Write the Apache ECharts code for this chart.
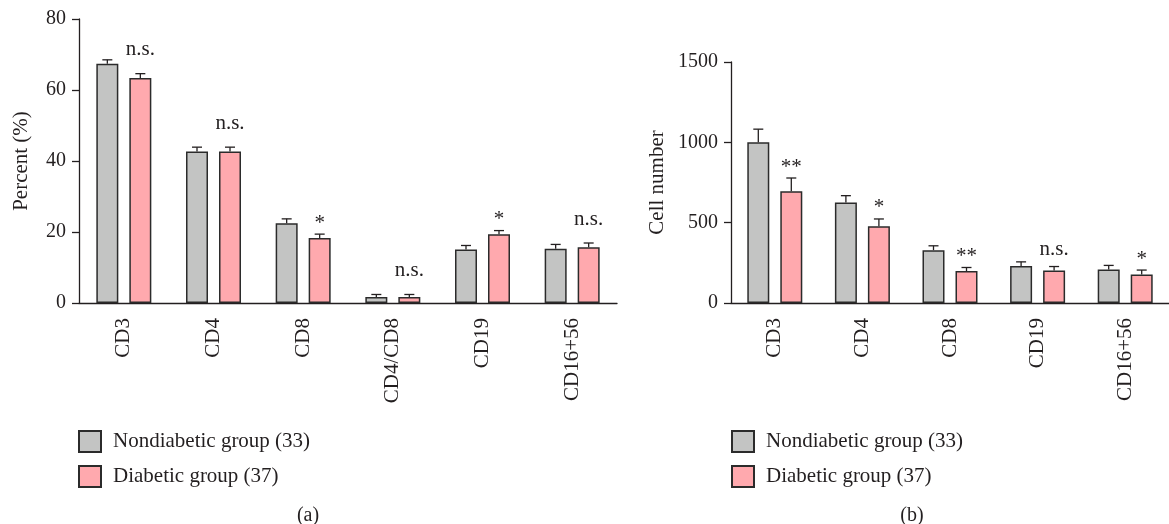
<!DOCTYPE html>
<html>
<head>
<meta charset="utf-8">
<script src="https://cdn.jsdelivr.net/npm/echarts@6/dist/echarts.min.js"></script>
<style>
html,body{margin:0;padding:0;background:#fff;}
#chart{width:1169px;height:524px;}
</style>
</head>
<body>
<div id="chart"></div>
<script>
// ---------- data ----------
const categoriesA = ['CD3', 'CD4', 'CD8', 'CD4/CD8', 'CD19', 'CD16+56'];
const nondiabeticPct = [67.4, 42.7, 22.5, 1.7, 15.1, 15.3];
const nondiabeticPctSem = [1.1, 1.2, 1.2, 0.7, 1.1, 1.2];
const diabeticPct = [63.4, 42.7, 18.3, 1.7, 19.4, 15.7];
const diabeticPctSem = [1.2, 1.2, 1.1, 0.7, 1.0, 1.2];
const signifA = ['n.s.', 'n.s.', '*', 'n.s.', '*', 'n.s.'];

const categoriesB = ['CD3', 'CD4', 'CD8', 'CD19', 'CD16+56'];
const nondiabeticCount = [1000, 625, 329, 230, 209];
const nondiabeticCountSem = [82, 43, 27, 26, 25];
const diabeticCount = [695, 478, 199, 203, 178];
const diabeticCountSem = [83, 45, 22, 24, 27];
const signifB = ['**', '*', '**', 'n.s.', '*'];

const yTicksA = [0, 20, 40, 60, 80];
const yTicksB = [0, 500, 1000, 1500];

const seriesNames = ['Nondiabetic group (33)', 'Diabetic group (37)'];
const panelLabels = ['(a)', '(b)'];

// ---------- style ----------
const FONT = 'Liberation Serif';
const INK = '#231f20';
const GRAY = '#c3c4c3';
const PINK = '#ffa9ae';
const BAR_W = 22;
const BAR_GAP_PX = 11;
const OFF = (BAR_W + BAR_GAP_PX) / 2;

function errorRenderer(sign, texts, nsGap, starGap) {
  return function (params, api) {
    const i = api.value(0);
    const mean = api.value(1);
    const sem = api.value(2);
    const base = api.coord([i, mean]);
    const top = api.coord([i, mean + sem]);
    const x = base[0] + sign * OFF;
    const children = [
      { type: 'line', shape: { x1: x, y1: base[1], x2: x, y2: top[1] },
        style: { stroke: INK, lineWidth: 1.3 } },
      { type: 'line', shape: { x1: x - 5, y1: top[1], x2: x + 5, y2: top[1] },
        style: { stroke: INK, lineWidth: 1.3 } }
    ];
    if (texts) {
      const t = texts[params.dataIndex];
      const gap = t === 'n.s.' ? nsGap : starGap;
      children.push({
        type: 'text',
        style: { text: t, x: x, y: top[1] - gap, textAlign: 'center', textVerticalAlign: 'middle',
          font: '21px "' + FONT + '"', fill: INK }
      });
    }
    return { type: 'group', children: children };
  };
}

function errData(vals, sems) { return vals.map((v, i) => [i, v, sems[i]]); }

function xAxisCfg(gridIndex, cats) {
  return {
    type: 'category', gridIndex: gridIndex, data: cats,
    axisLine: { lineStyle: { color: INK, width: 1.3 } },
    axisTick: { alignWithLabel: true, length: 7, lineStyle: { color: INK, width: 1.3 } },
    axisLabel: { rotate: 90, margin: 15, fontFamily: FONT, fontSize: 21, color: INK }
  };
}
function yAxisCfg(gridIndex, ticks, name, gap) {
  return {
    type: 'value', gridIndex: gridIndex,
    min: ticks[0], max: ticks[ticks.length - 1], interval: ticks[1] - ticks[0],
    name: name, nameLocation: 'middle', nameGap: gap,
    nameTextStyle: { fontFamily: FONT, fontSize: 21, color: INK },
    axisLine: { show: true, lineStyle: { color: INK, width: 1.3 } },
    axisTick: { show: true, length: 7, lineStyle: { color: INK, width: 1.3 } },
    axisLabel: { margin: 13, fontFamily: FONT, fontSize: 20, color: INK,
      formatter: function (v) { return String(v); } },
    splitLine: { show: false }
  };
}
function barSeries(name, data, color, xi, yi) {
  return {
    type: 'bar', name: name, data: data, xAxisIndex: xi, yAxisIndex: yi,
    barWidth: BAR_W, barGap: (BAR_GAP_PX / BAR_W * 100) + '%',
    itemStyle: { color: color, borderColor: '#2b2b2b', borderWidth: 1.5 },
    emphasis: { disabled: true }, z: 2
  };
}
function legendCfg(left) {
  return {
    orient: 'vertical', left: left, top: 425, icon: 'rect',
    itemWidth: 22, itemHeight: 21, itemGap: 12,
    data: seriesNames, selectedMode: false,
    textStyle: { fontFamily: FONT, fontSize: 21, color: INK, padding: [0, 0, 0, 7] }
  };
}

const chart = echarts.init(document.getElementById('chart'), null, { renderer: 'canvas' });
chart.setOption({
  animation: false,
  backgroundColor: '#fff',
  grid: [
    { left: 79, right: 552, top: 19, bottom: 221 },
    { left: 731, right: -8, top: 62, bottom: 221 }
  ],
  xAxis: [xAxisCfg(0, categoriesA), xAxisCfg(1, categoriesB)],
  yAxis: [yAxisCfg(0, yTicksA, 'Percent (%)', 47), yAxisCfg(1, yTicksB, 'Cell number', 63)],
  legend: [legendCfg(73), legendCfg(726)],
  series: [
    barSeries(seriesNames[0], nondiabeticPct, GRAY, 0, 0),
    barSeries(seriesNames[1], diabeticPct, PINK, 0, 0),
    barSeries(seriesNames[0], nondiabeticCount, GRAY, 1, 1),
    barSeries(seriesNames[1], diabeticCount, PINK, 1, 1),
    { type: 'custom', xAxisIndex: 0, yAxisIndex: 0, z: 5, silent: true,
      renderItem: errorRenderer(-1, null), data: errData(nondiabeticPct, nondiabeticPctSem),
      encode: { x: 0, y: 1 } },
    { type: 'custom', xAxisIndex: 0, yAxisIndex: 0, z: 5, silent: true,
      renderItem: errorRenderer(1, signifA, 24, 11), data: errData(diabeticPct, diabeticPctSem),
      encode: { x: 0, y: 1 } },
    { type: 'custom', xAxisIndex: 1, yAxisIndex: 1, z: 5, silent: true,
      renderItem: errorRenderer(-1, null), data: errData(nondiabeticCount, nondiabeticCountSem),
      encode: { x: 0, y: 1 } },
    { type: 'custom', xAxisIndex: 1, yAxisIndex: 1, z: 5, silent: true,
      renderItem: errorRenderer(1, signifB, 17, 11), data: errData(diabeticCount, diabeticCountSem),
      encode: { x: 0, y: 1 } }
  ],
  graphic: [
    { type: 'text', x: 308, y: 516, style: { text: panelLabels[0], textAlign: 'center', textVerticalAlign: 'middle',
      font: '20px "' + FONT + '"', fill: INK } },
    { type: 'text', x: 912, y: 516, style: { text: panelLabels[1], textAlign: 'center', textVerticalAlign: 'middle',
      font: '20px "' + FONT + '"', fill: INK } }
  ]
});
</script>
</body>
</html>
